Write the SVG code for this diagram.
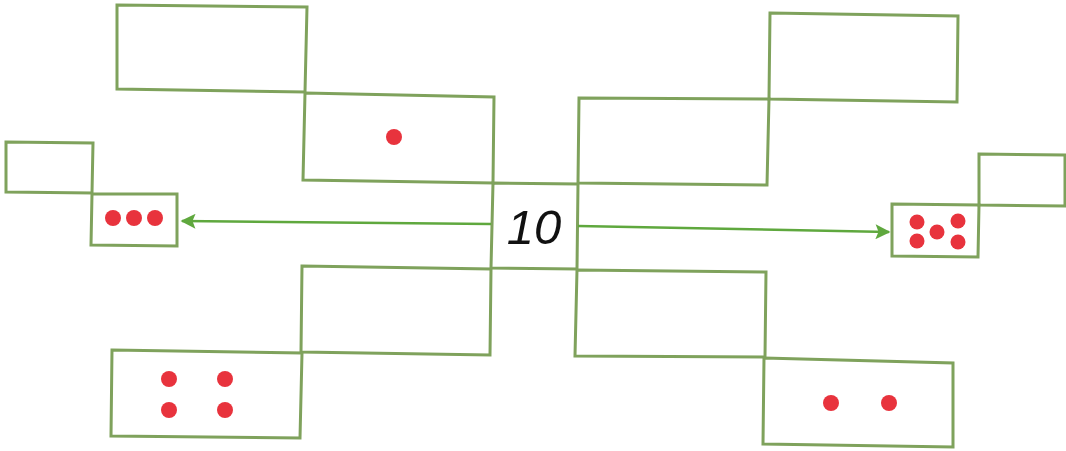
<svg xmlns="http://www.w3.org/2000/svg" width="1066" height="451" viewBox="0 0 1066 451">
<style>
.box{fill:none;stroke:#7fa25c;stroke-width:3;stroke-linejoin:miter}
.dot{fill:#e8333d}
.conn{fill:none;stroke:#5fa83e;stroke-width:2.5}
.num{font-family:"Liberation Sans",Arial,sans-serif;font-size:49px;font-style:italic;fill:#111}
</style>
<defs>
<marker id="ah" viewBox="0 0 10 10" refX="9" refY="5" markerWidth="8" markerHeight="6" markerUnits="strokeWidth" orient="auto">
<path d="M0,0 L10,5 L0,10 L2,5 Z" fill="#5fa83e"/>
</marker>
</defs>
<rect width="1066" height="451" fill="#fff"/>
<g id="center">
<polygon class="box" points="493,183 578,184 577,269 491,268"/>
<text class="num" x="534" y="244" text-anchor="middle">10</text>
</g>
<g id="top-left-a"><polygon class="box" points="117,5 307,7 305,92 117,89"/></g>
<g id="top-left-b"><polygon class="box" points="305,93 494,97 493,183 303,180"/><circle class="dot" cx="394" cy="137" r="8"/></g>
<g id="top-right-a"><polygon class="box" points="770,13 958,16 957,102 769,99"/></g>
<g id="top-right-b"><polygon class="box" points="579,98 769,99 767,185 578,183"/></g>
<g id="left-a"><polygon class="box" points="6,142 93,143 92,193 6,192"/></g>
<g id="left-b"><polygon class="box" points="92,194 177,194 177,246 91,245"/><circle class="dot" cx="113" cy="218" r="8"/><circle class="dot" cx="134" cy="218" r="8"/><circle class="dot" cx="155" cy="218" r="8"/></g>
<g id="right-a"><polygon class="box" points="979,154 1065,155 1065,206 979,205"/></g>
<g id="right-b"><polygon class="box" points="892,204 979,205 978,257 892,256"/><circle class="dot" cx="917" cy="222" r="7.5"/><circle class="dot" cx="917" cy="241" r="7.5"/><circle class="dot" cx="937" cy="232" r="7.5"/><circle class="dot" cx="958" cy="221" r="7.5"/><circle class="dot" cx="958" cy="242" r="7.5"/></g>
<g id="bottom-left-a"><polygon class="box" points="302,266 491,269 490,355 301,352"/></g>
<g id="bottom-left-b"><polygon class="box" points="112,350 302,353 300,438 111,436"/><circle class="dot" cx="169" cy="379" r="8"/><circle class="dot" cx="225" cy="379" r="8"/><circle class="dot" cx="169" cy="410" r="8"/><circle class="dot" cx="225" cy="410" r="8"/></g>
<g id="bottom-right-a"><polygon class="box" points="577,270 766,272 765,357 575,356"/></g>
<g id="bottom-right-b"><polygon class="box" points="764,358 953,363 953,447 763,444"/><circle class="dot" cx="831" cy="403" r="8"/><circle class="dot" cx="889" cy="403" r="8"/></g>
<g id="connectors">
<line class="conn" x1="491" y1="224" x2="182" y2="221" marker-end="url(#ah)"/>
<line class="conn" x1="578" y1="226" x2="889" y2="232" marker-end="url(#ah)"/>
</g>
</svg>
